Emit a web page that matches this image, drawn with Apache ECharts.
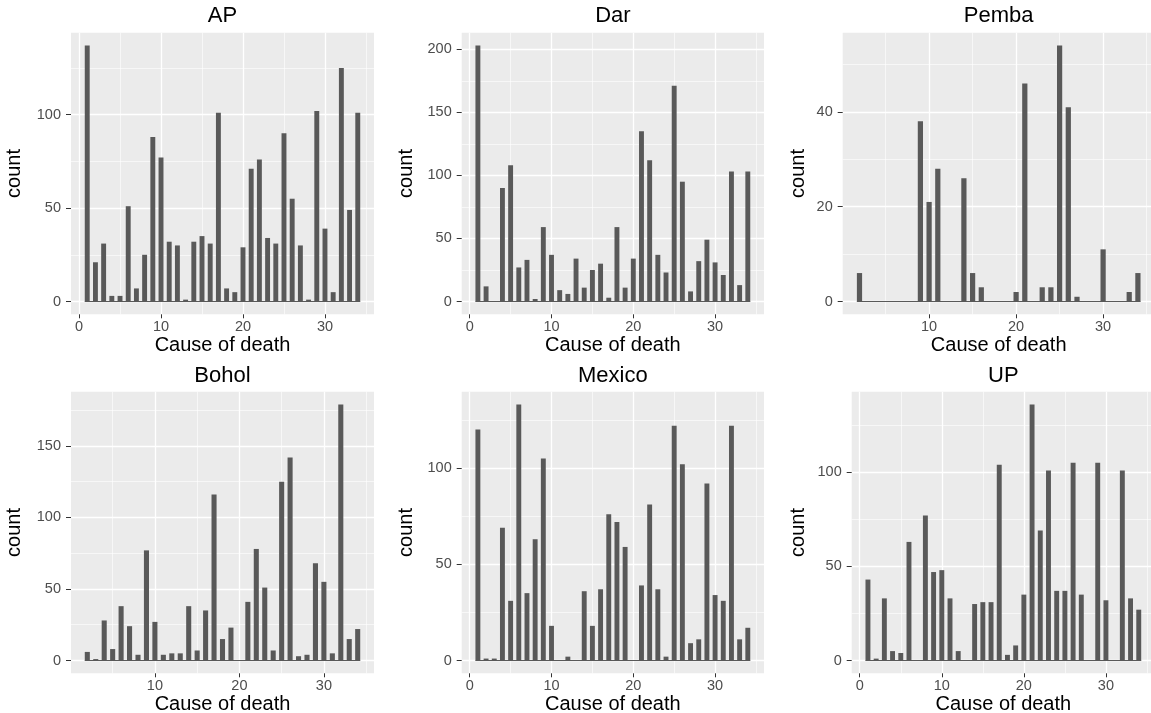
<!DOCTYPE html>
<html><head><meta charset="utf-8">
<script src="https://cdn.jsdelivr.net/npm/echarts@6/dist/echarts.min.js"></script>
<style>html,body{margin:0;padding:0;background:#fff}#chart{width:1151px;height:713px}</style>
</head><body><div id="chart"></div>
<script>
// ---------- data ----------
const panelNames = ['AP', 'Dar', 'Pemba', 'Bohol', 'Mexico', 'UP'];

const apCauses = [1,2,3,4,5,6,7,8,9,10,11,12,13,14,15,16,17,18,19,20,21,22,23,24,25,26,27,28,29,30,31,32,33,34];
const apCounts = [137,21,31,3,3,51,7,25,88,77,32,30,1,32,35,31,101,7,5,29,71,76,34,31,90,55,30,1,102,39,5,125,49,101];

const darCauses = [1,2,3,4,5,6,7,8,9,10,11,12,13,14,15,16,17,18,19,20,21,22,23,24,25,26,27,28,29,30,31,32,33,34];
const darCounts = [203,12,0,90,108,27,33,2,59,37,9,6,34,11,25,30,3,59,11,34,135,112,37,23,171,95,8,32,49,31,21,103,13,103];

const pembaCauses = [2,3,4,5,6,7,8,9,10,11,12,13,14,15,16,17,18,19,20,21,22,23,24,25,26,27,28,29,30,31,32,33,34];
const pembaCounts = [6,0,0,0,0,0,0,38,21,28,0,0,26,6,3,0,0,0,2,46,0,3,3,54,41,1,0,0,11,0,0,2,6];

const boholCauses = [2,3,4,5,6,7,8,9,10,11,12,13,14,15,16,17,18,19,20,21,22,23,24,25,26,27,28,29,30,31,32,33,34];
const boholCounts = [6,1,28,8,38,24,4,77,27,4,5,5,38,7,35,116,15,23,0,41,78,51,7,125,142,3,4,68,55,5,179,15,22];

const mexicoCauses = [1,2,3,4,5,6,7,8,9,10,11,12,13,14,15,16,17,18,19,20,21,22,23,24,25,26,27,28,29,30,31,32,33,34];
const mexicoCounts = [120,1,1,69,31,133,35,63,105,18,0,2,0,36,18,37,76,72,59,0,39,81,37,2,122,102,9,11,92,34,31,122,11,17];

const upCauses = [1,2,3,4,5,6,7,8,9,10,11,12,13,14,15,16,17,18,19,20,21,22,23,24,25,26,27,28,29,30,31,32,33,34];
const upCounts = [43,1,33,5,4,63,0,77,47,48,33,5,0,30,31,31,104,3,8,35,136,69,101,37,37,105,35,0,105,32,0,101,33,27];

// tick labels
const xMajorTicks = [0, 10, 20, 30];
const xMinorTicks = [5, 15, 25, 35];
const apYTicks = [0, 50, 100];          const apYMinor = [25, 75, 125];
const darYTicks = [0, 50, 100, 150, 200]; const darYMinor = [25, 75, 125, 175];
const pembaYTicks = [0, 20, 40];        const pembaYMinor = [10, 30, 50];
const boholYTicks = [0, 50, 100, 150];  const boholYMinor = [25, 75, 125, 175];
const mexicoYTicks = [0, 50, 100];      const mexicoYMinor = [25, 75, 125];
const upYTicks = [0, 50, 100];          const upYMinor = [25, 75, 125];

const xTitle = 'Cause of death';
const yTitle = 'count';

// ---------- assembly ----------
const panels = [
  {causes: apCauses, counts: apCounts, yT: apYTicks, yM: apYMinor},
  {causes: darCauses, counts: darCounts, yT: darYTicks, yM: darYMinor},
  {causes: pembaCauses, counts: pembaCounts, yT: pembaYTicks, yM: pembaYMinor},
  {causes: boholCauses, counts: boholCounts, yT: boholYTicks, yM: boholYMinor},
  {causes: mexicoCauses, counts: mexicoCounts, yT: mexicoYTicks, yM: mexicoYMinor},
  {causes: upCauses, counts: upCounts, yT: upYTicks, yM: upYMinor}
];

const FONT = '"Liberation Sans", Arial, Helvetica, sans-serif';
const BAR_W = 0.6;
const layout = [
  {left: 71,    top: 32.7,  width: 303,   height: 281.6, nameGap: 47},
  {left: 461.7, top: 32.7,  width: 302.3, height: 281.6, nameGap: 45.7},
  {left: 842.7, top: 32.7,  width: 312,   height: 281.6, nameGap: 34.7},
  {left: 71,    top: 391.7, width: 303,   height: 281.6, nameGap: 47},
  {left: 461.7, top: 391.7, width: 302.3, height: 281.6, nameGap: 45.7},
  {left: 851.7, top: 391.7, width: 303.3, height: 281.6, nameGap: 43.7}
];
const titleTops = [5.3, 5.3, 5.3, 365, 365, 365];

const option = {animation: false, backgroundColor: '#ffffff', title: [], grid: [], xAxis: [], yAxis: [], series: []};

panels.forEach((p, i) => {
  const L = layout[i];
  const cMin = Math.min(...p.causes), cMax = Math.max(...p.causes);
  const lo = cMin - BAR_W / 2, hi = cMax + BAR_W / 2;
  const xmin = lo - 0.05 * (hi - lo), xmax = hi + 0.05 * (hi - lo);
  const yTop = Math.max(...p.counts);
  const ymin = -0.05 * yTop, ymax = 1.05 * yTop;
  const inX = v => v >= xmin && v <= xmax;
  const inY = v => v >= ymin && v <= ymax;
  const xt = xMajorTicks.filter(inX), xm = xMinorTicks.filter(inX);
  const yt = p.yT.filter(inY), ym = p.yM.filter(inY);

  option.title.push({
    text: panelNames[i], left: L.left + L.width / 2, top: titleTops[i], textAlign: 'center', padding: 0,
    textStyle: {fontFamily: FONT, fontSize: 22, fontWeight: 'normal', color: '#000'}
  });
  option.grid.push({
    left: L.left, top: L.top, width: L.width, height: L.height, show: true,
    backgroundColor: '#EBEBEB', borderWidth: 0, containLabel: false, outerBoundsMode: 'none'
  });
  option.xAxis.push({
    type: 'value', gridIndex: i, min: xmin, max: xmax, position: 'bottom',
    axisLine: {show: false, onZero: false},
    axisTick: {show: true, length: 4, lineStyle: {color: '#333333', width: 1}, customValues: xt},
    axisLabel: {customValues: xt, margin: 5, fontSize: 14.5, color: '#4D4D4D', fontFamily: FONT},
    splitLine: {show: true, lineStyle: {color: '#FFFFFF', width: 1.3}},
    name: xTitle, nameLocation: 'middle', nameGap: 20.5,
    nameTextStyle: {fontSize: 20, color: '#000', fontFamily: FONT}
  });
  option.xAxis.push({
    type: 'value', gridIndex: i, min: xmin, max: xmax, position: 'bottom',
    axisLine: {show: false, onZero: false},
    axisTick: {show: false, customValues: xm},
    axisLabel: {show: false, customValues: xm},
    splitLine: {show: true, lineStyle: {color: '#FFFFFF', width: 0.6}}
  });
  option.yAxis.push({
    type: 'value', gridIndex: i, min: ymin, max: ymax, position: 'left',
    axisLine: {show: false, onZero: false},
    axisTick: {show: true, length: 5, lineStyle: {color: '#333333', width: 1}, customValues: yt},
    axisLabel: {customValues: yt, margin: 10, fontSize: 14.5, color: '#4D4D4D', fontFamily: FONT},
    splitLine: {show: true, lineStyle: {color: '#FFFFFF', width: 1.3}},
    name: yTitle, nameLocation: 'middle', nameGap: L.nameGap,
    nameTextStyle: {fontSize: 20, color: '#000', fontFamily: FONT}
  });
  option.yAxis.push({
    type: 'value', gridIndex: i, min: ymin, max: ymax, position: 'left',
    axisLine: {show: false, onZero: false},
    axisTick: {show: false, customValues: ym},
    axisLabel: {show: false, customValues: ym},
    splitLine: {show: true, lineStyle: {color: '#FFFFFF', width: 0.6}}
  });
  const barPx = BAR_W * L.width / (xmax - xmin);
  option.series.push({
    type: 'line', xAxisIndex: 2 * i, yAxisIndex: 2 * i, silent: true, symbol: 'none', z: 1,
    data: [[lo, 0], [hi, 0]], lineStyle: {color: '#595959', width: 1}
  });
  option.series.push({
    type: 'bar', xAxisIndex: 2 * i, yAxisIndex: 2 * i, silent: true, barWidth: barPx, z: 2,
    itemStyle: {color: '#595959'},
    data: p.causes.map((c, j) => [c, p.counts[j]])
  });
});

const chart = echarts.init(document.getElementById('chart'), null, {renderer: 'canvas'});
chart.setOption(option);
</script>
</body></html>
